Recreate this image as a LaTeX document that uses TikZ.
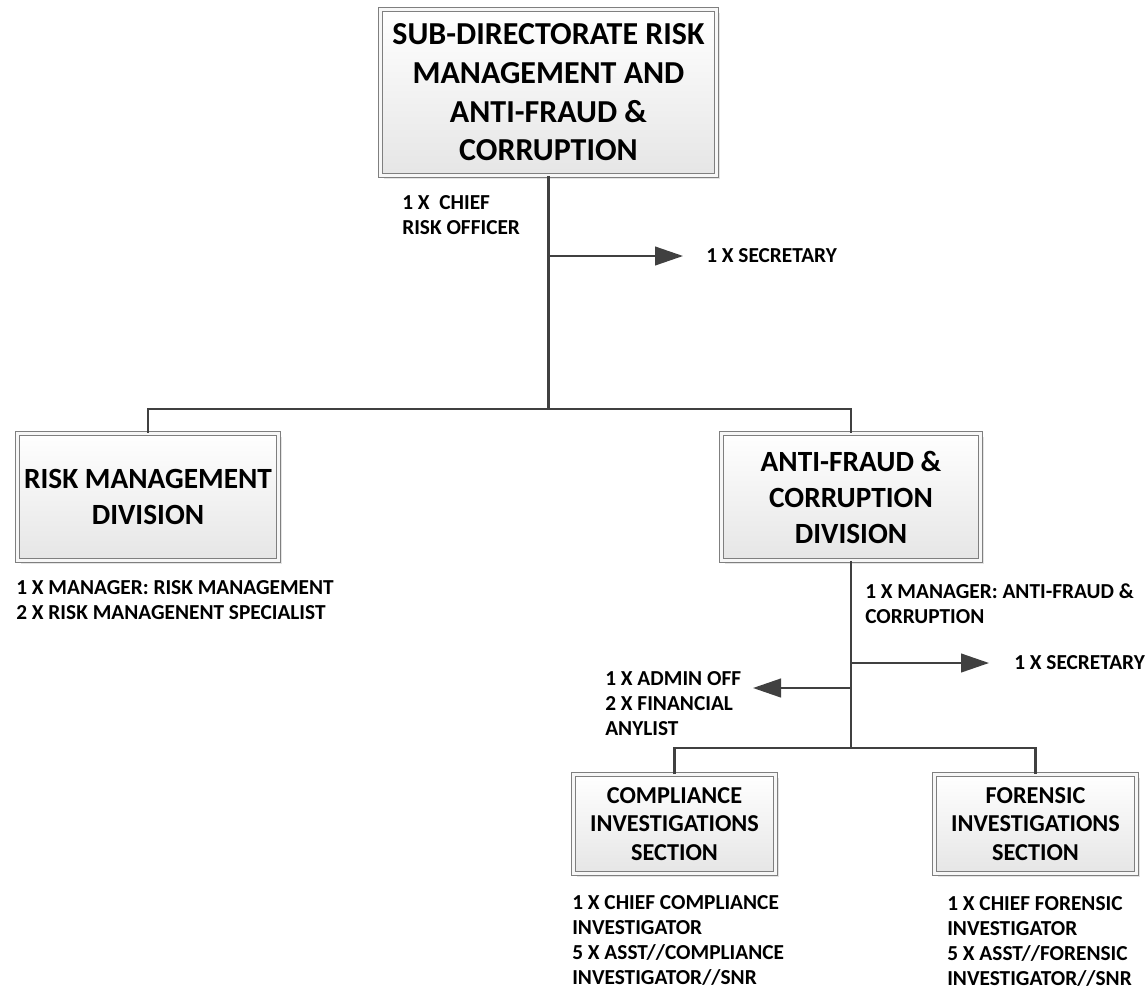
\documentclass[tikz,border=0pt]{standalone}
\usepackage{fontspec}
\setmainfont{Carlito}
\usetikzlibrary{arrows.meta,shapes,positioning,shadows}

\definecolor{Dark}{HTML}{404040}
\definecolor{Frame}{HTML}{7F7F7F}

\begin{document}
\begin{tikzpicture}[x=0.75pt,y=-0.75pt,
	Line/.style={draw=Dark,line width=1.6pt},
	Arrow/.style={Line,-{Triangle[length=21pt,width=14pt]}},
	Box/.style={rectangle,draw=Frame,line width=0.6pt,double=gray!6,double distance=2.6pt,top color=white,bottom color=gray!20,drop shadow={shadow xshift=2.5pt,shadow yshift=-2.5pt,fill=gray!35,opacity=0.6},align=center,inner sep=0pt},
	BigFont/.style={font=\fontsize{24}{29}\selectfont\bfseries},
	DivFont/.style={font=\fontsize{22}{27}\selectfont\bfseries},
	SecFont/.style={font=\fontsize{18.2}{21.4}\selectfont\bfseries},
	Lbl/.style={align=left,inner sep=0pt,font=\fontsize{16}{18.75}\selectfont\bfseries},
]
	\useasboundingbox (0,0) rectangle (1148,989);

	% boxes
	\node[Box,BigFont,minimum width=252pt,minimum height=124.5pt] (SD) at (548.5,92.5)
		{SUB-DIRECTORATE RISK\\MANAGEMENT AND\\ANTI-FRAUD \&\\CORRUPTION};
	\node[Box,DivFont,minimum width=195.7pt,minimum height=95.2pt] (RM) at (148,497)
		{RISK MANAGEMENT\\DIVISION};
	\node[Box,DivFont,minimum width=194.2pt,minimum height=95.2pt] (AF) at (851,497)
		{ANTI-FRAUD \&\\CORRUPTION\\DIVISION};
	\node[Box,SecFont,minimum width=151.5pt,minimum height=74.2pt] (CI) at (674.5,824)
		{COMPLIANCE\\INVESTIGATIONS\\SECTION};
	\node[Box,SecFont,minimum width=151.5pt,minimum height=74.2pt] (FI) at (1035.5,824)
		{FORENSIC\\INVESTIGATIONS\\SECTION};

	% staff
	\node[Lbl,anchor=north west] (CRO) at (402,195) {1 X\ \ CHIEF\\RISK OFFICER};
	\node[Lbl,anchor=west] (Sec1) at (706,256) {1 X SECRETARY};
	\node[Lbl,anchor=north west] (RMStaff) at (16,580)
		{1 X MANAGER: RISK MANAGEMENT\\2 X RISK MANAGENENT SPECIALIST};
	\node[Lbl,anchor=north west] (AFStaff) at (865,583)
		{1 X MANAGER: ANTI-FRAUD \&\\CORRUPTION};
	\node[Lbl,anchor=west] (Sec2) at (1014,663) {1 X SECRETARY};
	\node[Lbl,anchor=north west] (Adm) at (605,671)
		{1 X ADMIN OFF\\2 X FINANCIAL\\ANYLIST};
	\node[Lbl,anchor=north west] (CIStaff) at (572,895)
		{1 X CHIEF COMPLIANCE\\INVESTIGATOR\\5 X ASST//COMPLIANCE\\INVESTIGATOR//SNR};
	\node[Lbl,anchor=north west] (FIStaff) at (947,896)
		{1 X CHIEF FORENSIC\\INVESTIGATOR\\5 X ASST//FORENSIC\\INVESTIGATOR//SNR};

	% connectors
	\coordinate (Bus) at (548.5,409);
	\coordinate (J1) at (548.5,256);
	\coordinate (Bus2) at (851,748);
	\coordinate (J2) at (851,663);
	\coordinate (J3) at (851,688);
	\coordinate (Tip) at (753,688);

	\draw[Line] (SD) -- (Bus);
	\draw[Line] (RM) |- (Bus) -| (AF);
	\draw[Arrow,shorten >=17.25pt] (J1) -- (Sec1);
	\draw[Line] (AF) -- (Bus2);
	\draw[Line] (CI) |- (Bus2) -| (FI);
	\draw[Arrow,shorten >=18.75pt] (J2) -- (Sec2);
	\draw[Arrow] (J3) -- (Tip);
\end{tikzpicture}
\end{document}
